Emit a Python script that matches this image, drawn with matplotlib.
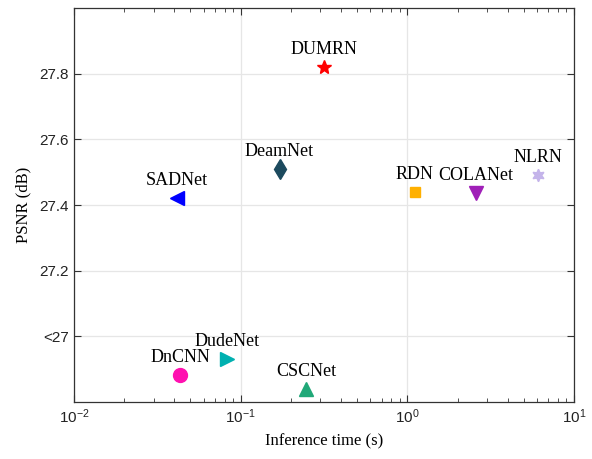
import matplotlib
matplotlib.use('Agg')
import matplotlib.pyplot as plt
from matplotlib.ticker import LogLocator, NullFormatter

# data
methods = ['DUMRN', 'DeamNet', 'SADNet', 'RDN', 'COLANet', 'NLRN', 'DnCNN', 'DudeNet', 'CSCNet']
times = [0.318, 0.171, 0.0413, 1.11, 2.57, 6.07, 0.0433, 0.0824, 0.247]
psnr = [27.82, 27.51, 27.42, 27.44, 27.437, 27.49, 26.882, 26.93, 26.84]
yticks = [27.0, 27.2, 27.4, 27.6, 27.8]
yticklabels = ['<27', '27.2', '27.4', '27.6', '27.8']

# styles per method
markers = ['*', 'd', '<', 's', 'v', (6, 1, 0), 'o', '>', '^']
colors = ['#ff0000', '#1c4a5e', '#0000ff', '#ffb000', '#a020b8',
          '#c4b4ea', '#ff10b0', '#00b0b0', '#20a878']
sizes = [10, 10, 10, 6.5, 10, 9, 10, 9.5, 10]

serif = 'Liberation Serif'
sans = 'Liberation Sans'

fig = plt.figure(figsize=(5.92, 4.59), dpi=100)
ax = fig.add_axes([0.125, 0.124, 0.8446, 0.8586])

for m, t, p, mk, c, s in zip(methods, times, psnr, markers, colors, sizes):
    ax.plot(t, p, linestyle='none', marker=mk, color=c, markersize=s,
            markeredgecolor=c, zorder=3)
    ax.annotate(m, (t, p), xytext=(0, 6.5), textcoords='offset points',
                ha='center', va='bottom', fontsize=13, family=serif)

ax.set_xscale('log')
ax.set_xlim(0.01, 10)
ax.set_ylim(26.8, 28.0)
ax.set_yticks(yticks)
ax.set_yticklabels(yticklabels)
ax.xaxis.set_minor_locator(LogLocator(base=10, subs=range(2, 10)))
ax.xaxis.set_minor_formatter(NullFormatter())

ax.grid(True, which='major', color='#e6e6e6', linewidth=0.9)
ax.set_axisbelow(True)

ax.tick_params(which='both', direction='in', top=True, right=True,
               color='#333333', labelsize=11, labelcolor='#222222')
ax.tick_params(which='major', length=5)
ax.tick_params(which='minor', length=3)
for lab in ax.get_xticklabels() + ax.get_yticklabels():
    lab.set_family(sans)
for sp in ax.spines.values():
    sp.set_color('#333333')
    sp.set_linewidth(0.9)

ax.set_xlabel('Inference time (s)', family=serif, fontsize=12, labelpad=6)
ax.set_ylabel('PSNR (dB)', family=serif, fontsize=12, labelpad=6)

fig.savefig('out.png', dpi=100)
